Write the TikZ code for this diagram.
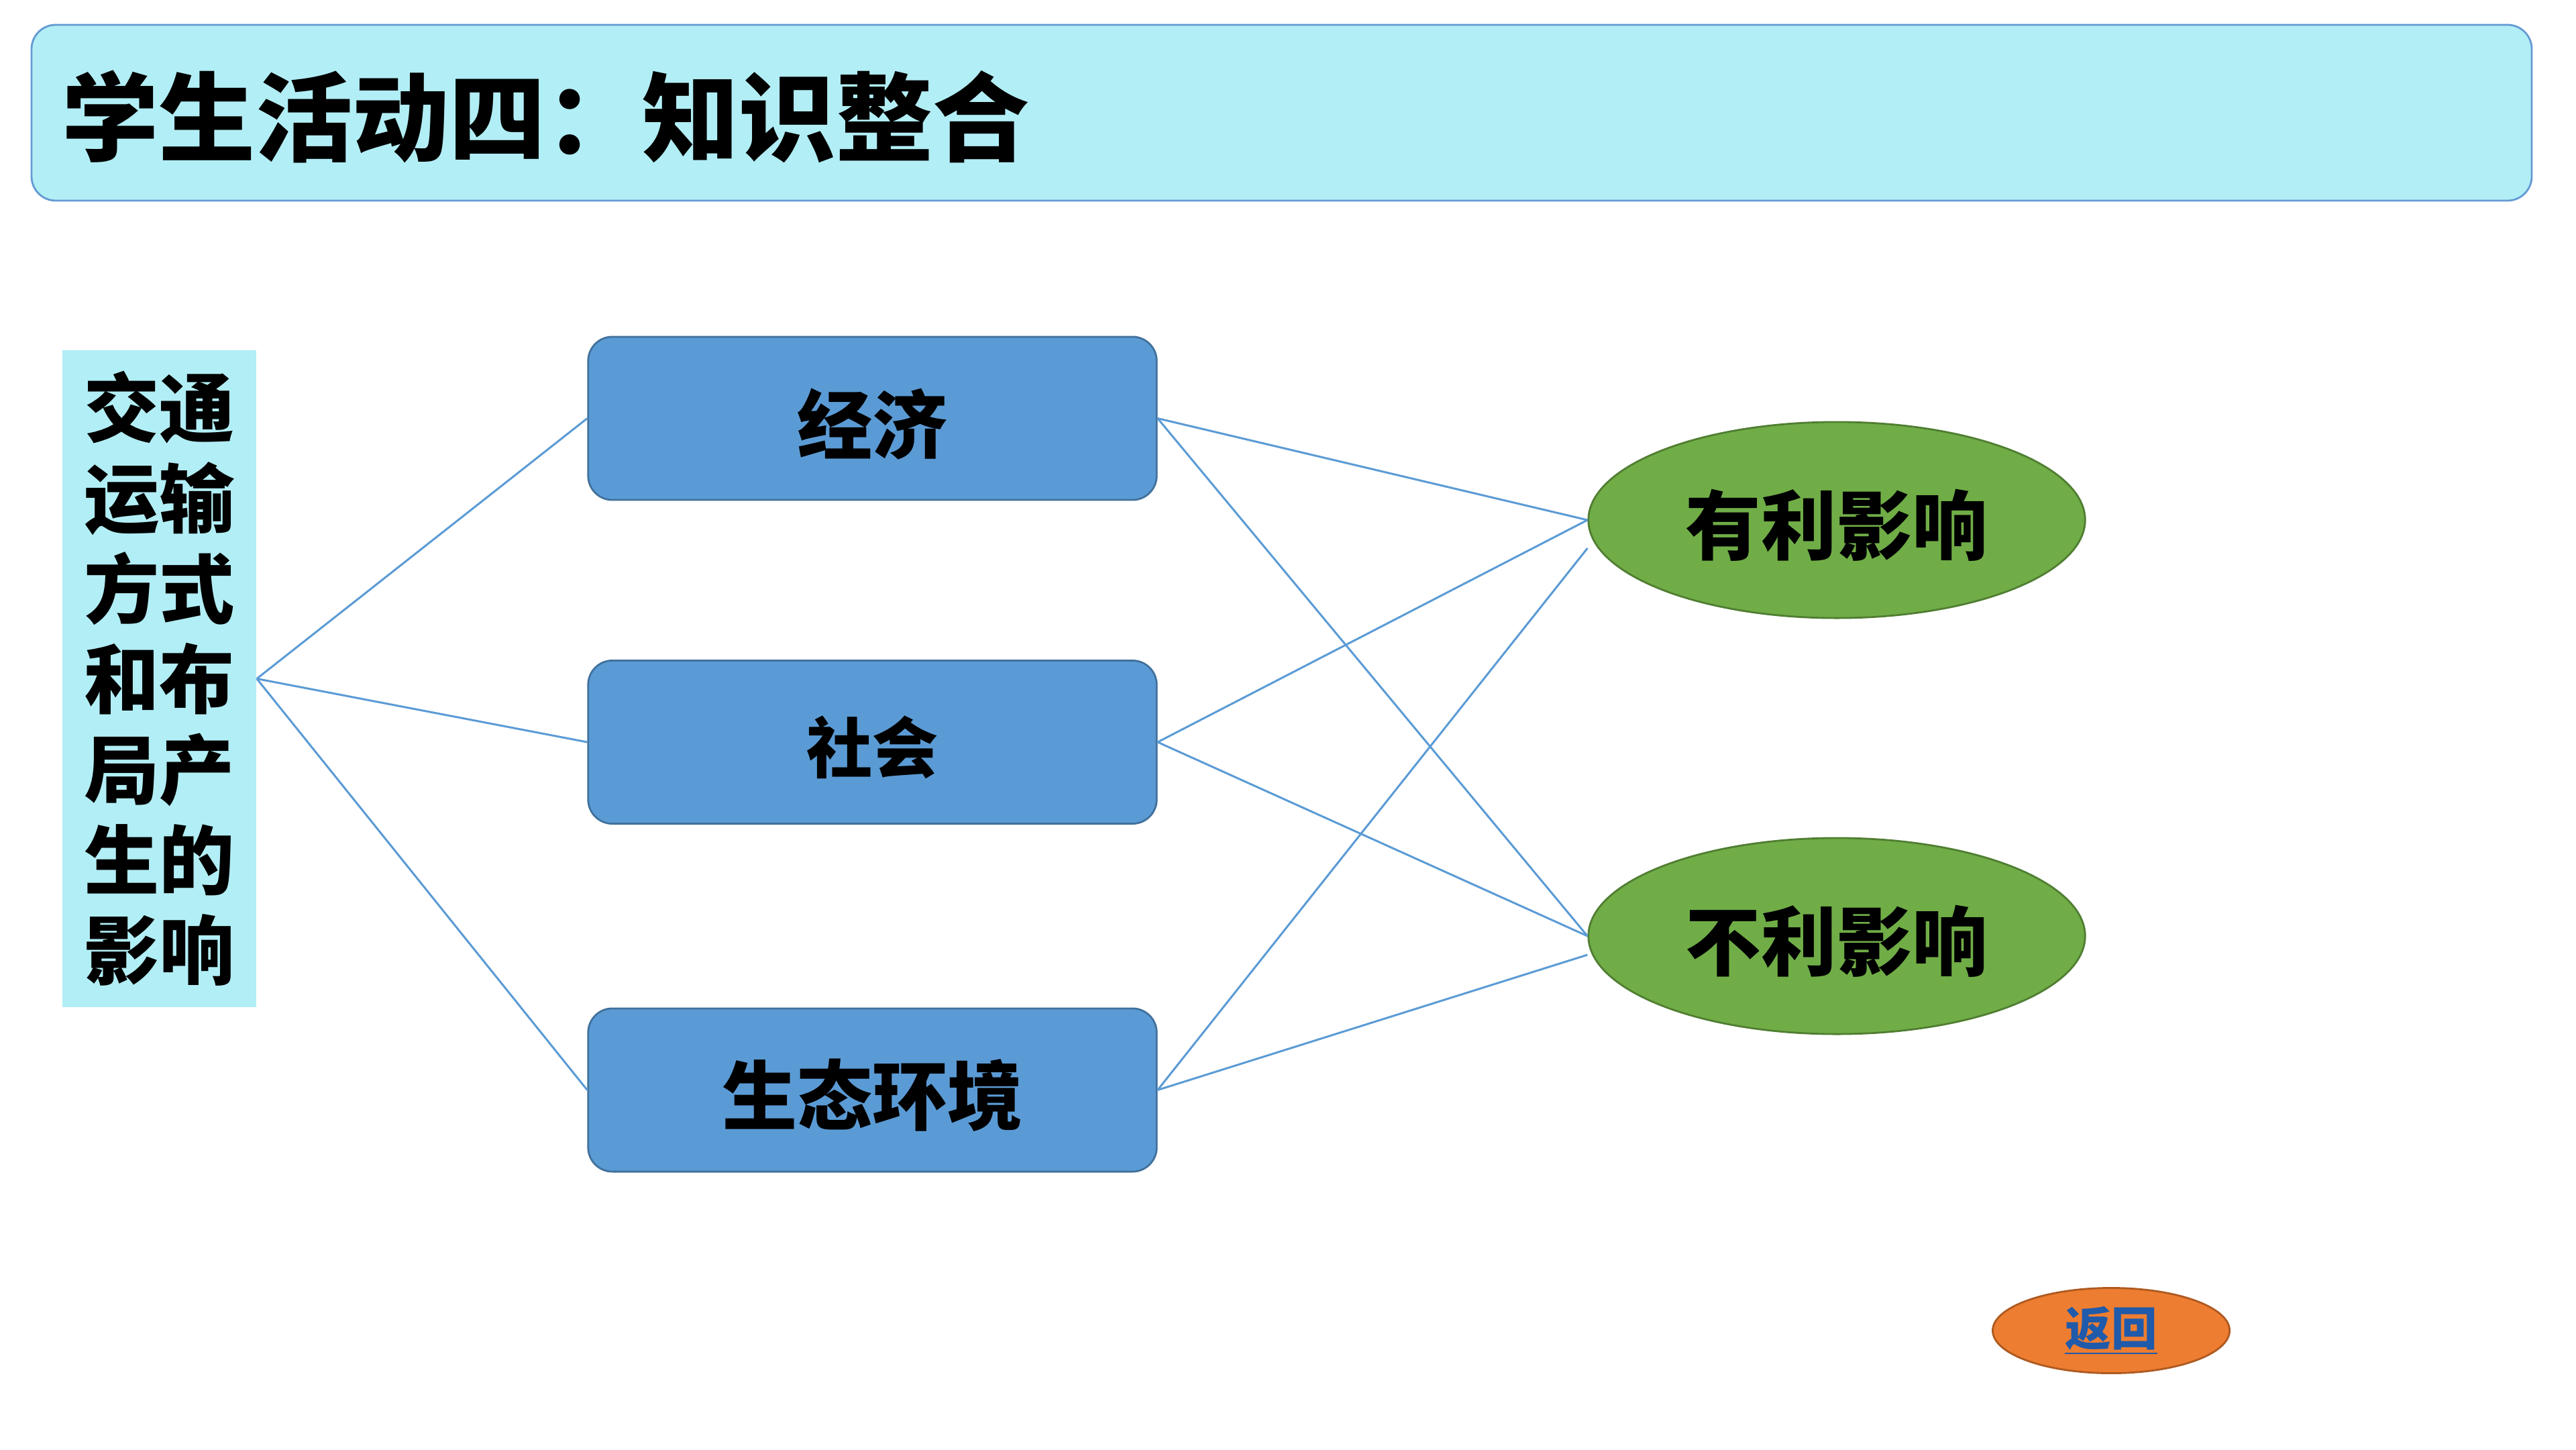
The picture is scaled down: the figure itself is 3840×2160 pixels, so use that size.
\documentclass[tikz,border=0pt]{standalone}
\usepackage{fontspec}
\newfontfamily\cjk{Noto Sans CJK SC}
\usetikzlibrary{shapes.geometric,calc}
\definecolor{titlefill}{RGB}{178,238,245}
\definecolor{titledraw}{RGB}{100,155,212}
\definecolor{boxfill}{RGB}{91,155,213}
\definecolor{boxdraw}{RGB}{65,113,156}
\definecolor{ellfill}{RGB}{112,173,71}
\definecolor{elldraw}{RGB}{80,126,50}
\definecolor{btnfill}{RGB}{237,125,49}
\definecolor{btndraw}{RGB}{174,90,33}
\definecolor{linkblue}{RGB}{32,90,170}
\definecolor{wire}{RGB}{91,155,213}
\newcommand{\lowtxt}[1]{\raisebox{-0.08cm}[\height][\depth]{#1}}
\tikzset{
  titlebox/.style={draw=titledraw, line width=0.8pt, fill=titlefill, rounded corners=0.36cm},
  sidebox/.style={fill=titlefill, inner sep=0pt, minimum width=2.89cm, minimum height=9.79cm, align=center, text width=2.6cm, font=\cjk\bfseries\fontsize{31.9}{38.3}\selectfont},
  bluebox/.style={draw=boxdraw, line width=0.8pt, fill=boxfill, rounded corners=0.36cm, minimum width=8.47cm, minimum height=2.43cm, inner sep=0pt},
  greenell/.style={ellipse, draw=elldraw, line width=0.8pt, fill=ellfill, minimum width=7.4cm, minimum height=2.92cm, inner sep=0pt, font=\cjk\bfseries\fontsize{32}{38}\selectfont},
  btn/.style={ellipse, draw=btndraw, line width=0.8pt, fill=btnfill, minimum width=3.53cm, minimum height=1.27cm, inner sep=0pt, text=linkblue, font=\cjk\bfseries\fontsize{19.5}{23}\selectfont},
  wireline/.style={draw=wire, line width=0.85pt}
}
\begin{document}
\begin{tikzpicture}[x=0.01cm, y=-0.01cm]
\useasboundingbox (0,0) rectangle (3840,2160);
% title
\draw[titlebox] (47,37) rectangle (3774,299);
\node[anchor=west, inner sep=0pt, font=\cjk\bfseries\fontsize{41}{49}\selectfont] (title) at (92,174) {学生活动四：知识整合};
% left box
\node[sidebox] (src) at (237.5,1011.5) {交通\\运输\\方式\\和布\\局产\\生的\\影响};
% blue boxes
\node[bluebox, font=\cjk\bfseries\fontsize{31.9}{38}\selectfont] (jj) at (1300.5,623.5) {\lowtxt{经济}};
\node[bluebox, font=\cjk\bfseries\fontsize{27.9}{34}\selectfont] (sh) at (1300.5,1106) {\lowtxt{社会}};
\node[bluebox, font=\cjk\bfseries\fontsize{31.9}{38}\selectfont] (st) at (1300.5,1624.5) {\lowtxt{生态环境}};
% ellipses
\node[greenell] (yl) at (2738,775) {\lowtxt{有利影响}};
\node[greenell] (bl) at (2738,1395) {\lowtxt{不利影响}};
\coordinate (yls) at ($(yl.west)+(0,42)$);
\coordinate (bls) at ($(bl.west)+(0,28)$);
% return button
\node[btn] (back) at (3147,1983) {\underline{返回}};
% connectors
\draw[wireline] (src.east) -- (jj.west);
\draw[wireline] (src.east) -- (sh.west);
\draw[wireline] (src.east) -- (st.west);
\draw[wireline] (jj.east) -- (yl.west);
\draw[wireline] (jj.east) -- (bl.west);
\draw[wireline] (sh.east) -- (yl.west);
\draw[wireline] (sh.east) -- (bl.west);
\draw[wireline] (st.east) -- (yls);
\draw[wireline] (st.east) -- (bls);
\end{tikzpicture}
\end{document}
